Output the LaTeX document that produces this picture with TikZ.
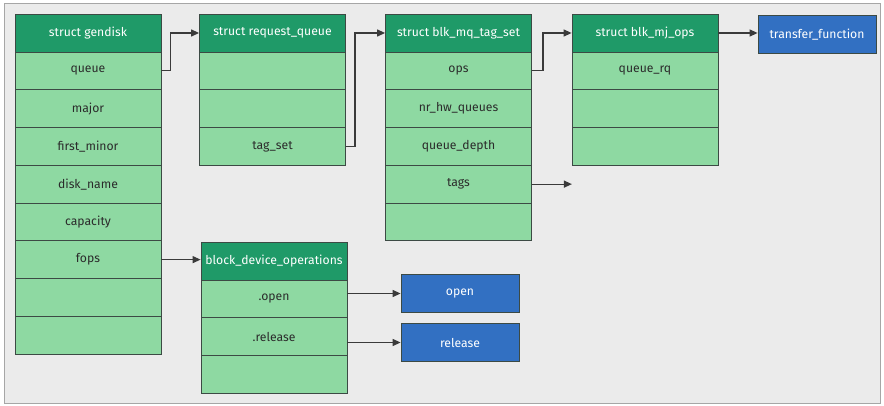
\documentclass[tikz,border=0pt]{standalone}
\usepackage{fontspec}
\setmainfont{Fira Sans}
\usetikzlibrary{arrows.meta}
\definecolor{hdrgreen}{HTML}{1F9A68}
\definecolor{rowgreen}{HTML}{8ED9A2}
\definecolor{boxblue}{HTML}{3270C2}
\definecolor{bgray}{HTML}{EBEBEB}
\definecolor{edge}{HTML}{3C4A44}
\definecolor{txt}{HTML}{2B2B2B}
\definecolor{arrowc}{HTML}{3A3A3A}
\tikzset{
  cell/.style={draw=edge, line width=0.8pt, minimum width=146pt, inner sep=0pt, font=\fontsize{12.2}{14}\selectfont},
  hdr/.style={cell, fill=hdrgreen, text=white, minimum height=38pt},
  rowc/.style={cell, fill=rowgreen, text=txt, minimum height=37.75pt},
  bluebox/.style={draw=edge, line width=0.8pt, fill=boxblue, text=white, minimum width=118pt, minimum height=37.5pt, inner sep=0pt, font=\fontsize{12.2}{14}\selectfont},
  arr/.style={draw=arrowc, line width=1.2pt, -{Triangle[length=8pt,width=7pt]}},
}
\begin{document}
\begin{tikzpicture}[x=1pt,y=-1pt]
\useasboundingbox (0,0) rectangle (884,406);
\fill[white] (0,0) rectangle (884,406);
\draw[fill=bgray, draw=gray!70, line width=0.8pt] (4,3) rectangle (880,403);
% struct gendisk
\node[hdr] (g0) at (88,33) {struct gendisk};
\foreach \i/\t in {1/queue,2/major,3/first\_minor,4/disk\_name,5/capacity,6/fops,7/,8/}{
  \node[rowc] (g\i) at (88,{52+(\i-0.5)*37.75}) {\t};
}
% struct request_queue
\node[hdr] (r0) at (272.5,33) {struct request\_queue};
\foreach \i/\t in {1/,2/,3/tag\_set}{
  \node[rowc] (r\i) at (272.5,{52+(\i-0.5)*37.75}) {\t};
}
% struct blk_mq_tag_set
\node[hdr] (t0) at (458.5,33) {struct blk\_mq\_tag\_set};
\foreach \i/\t in {1/ops,2/nr\_hw\_queues,3/queue\_depth,4/tags,5/}{
  \node[rowc] (t\i) at (458.5,{52+(\i-0.5)*37.75}) {\t};
}
% struct blk_mj_ops
\node[hdr] (o0) at (645,33) {struct blk\_mj\_ops};
\foreach \i/\t in {1/queue\_rq,2/,3/}{
  \node[rowc] (o\i) at (645,{52+(\i-0.5)*37.75}) {\t};
}
% block_device_operations
\node[hdr] (b0) at (274,261) {block\_device\_operations};
\foreach \i/\t in {1/.open,2/.release,3/}{
  \node[rowc] (b\i) at (274,{280+(\i-0.5)*37.75}) {\t};
}
% blue boxes
\node[bluebox] (tf) at (817,34.5) {transfer\_function};
\node[bluebox] (op) at (460,293.5) {open};
\node[bluebox] (rl) at (460,342.5) {release};
\path (t4.east) ++(40,0) coordinate (tagsend);
% connectors
\draw[arr] (g1.east) -- ++(9,0) |- (r0.west);
\draw[arr] (r3.east) -- ++(9,0) |- (t0.west);
\draw[arr] (t1.east) -- ++(11,0) |- (o0.west);
\draw[arr] (t4.east) -- (tagsend);
\draw[arr] (o0.east) -- (o0.east -| tf.west);
\draw[arr] (g6.east) -- (g6.east -| b0.west);
\draw[arr] (op.west -| b1.east) -- (op.west);
\draw[arr] (rl.west -| b2.east) -- (rl.west);
\end{tikzpicture}
\end{document}
